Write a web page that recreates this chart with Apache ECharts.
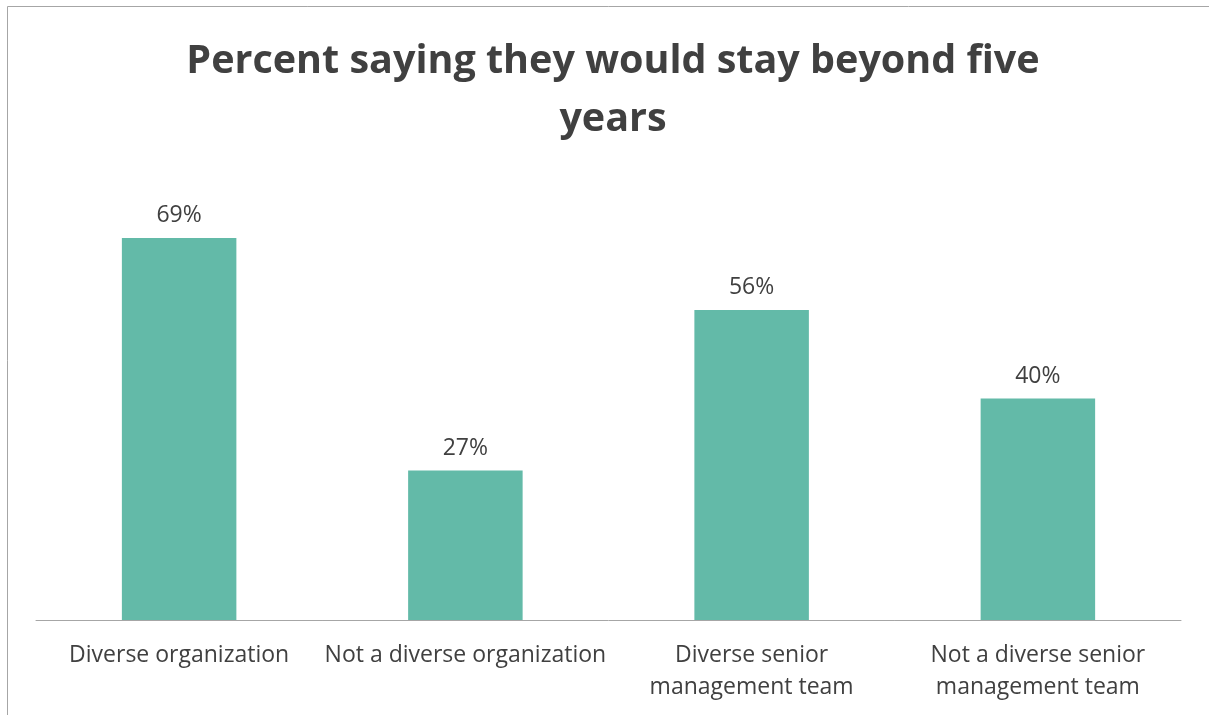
<!DOCTYPE html>
<html>
<head>
<meta charset="utf-8">
<script src="https://cdn.jsdelivr.net/npm/echarts@6/dist/echarts.min.js"></script>
<style>
  html, body { margin: 0; padding: 0; background: #fff; }
  #chart { width: 1209px; height: 715px; }
</style>
</head>
<body>
<div id="chart"></div>
<script>
// Survey groups and share of respondents who would stay beyond five years
const categories = [
  'Diverse organization',
  'Not a diverse organization',
  'Diverse senior\nmanagement team',
  'Not a diverse senior\nmanagement team'
];
const stayPercent = [69, 27, 56, 40];
const titleText = 'Percent saying they would stay beyond five\nyears';

const textColor = '#404040';
const barColor = '#63BAA8';
const fontFamily = '"Open Sans", sans-serif';

const chart = echarts.init(document.getElementById('chart'), null, { renderer: 'canvas' });
chart.setOption({
  backgroundColor: '#ffffff',
  animation: false,
  title: {
    text: titleText,
    left: 608,
    textAlign: 'center',
    top: 28,
    textStyle: {
      fontFamily: fontFamily,
      fontWeight: 'bold',
      fontSize: 39.5,
      lineHeight: 58,
      color: textColor
    }
  },
  grid: { left: 36, right: 28, top: 177, bottom: 95 },
  xAxis: {
    type: 'category',
    data: categories,
    axisLine: { lineStyle: { color: '#a6a6a6', width: 1 } },
    axisTick: { show: false },
    axisLabel: {
      color: textColor,
      fontFamily: fontFamily,
      fontSize: 23,
      lineHeight: 32,
      margin: 19,
      interval: 0
    }
  },
  yAxis: {
    type: 'value',
    min: 0,
    max: 80,
    show: false,
    splitLine: { show: false }
  },
  series: [{
    type: 'bar',
    data: stayPercent,
    barWidth: '40%',
    itemStyle: { color: barColor },
    label: {
      show: true,
      position: 'top',
      distance: 11,
      formatter: p => p.value + '%',
      color: textColor,
      fontFamily: fontFamily,
      fontSize: 23
    }
  }],
  graphic: [
    { type: 'line', shape: { x1: 7.5, y1: 6.5, x2: 1209, y2: 6.5 }, style: { stroke: '#a6a6a6', lineWidth: 1 } },
    { type: 'line', shape: { x1: 7.5, y1: 6.5, x2: 7.5, y2: 715 }, style: { stroke: '#a6a6a6', lineWidth: 1 } }
  ]
});
</script>
</body>
</html>
